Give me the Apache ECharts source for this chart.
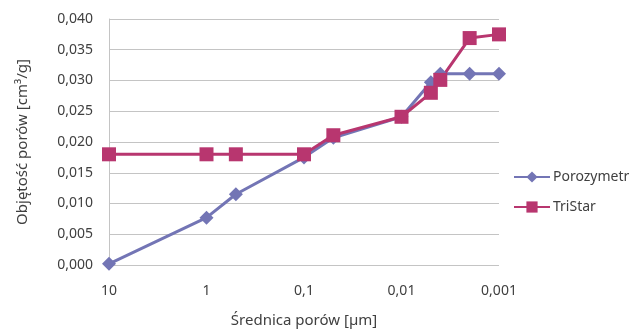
<!DOCTYPE html>
<html>
<head>
<meta charset="utf-8">
<script src="https://cdn.jsdelivr.net/npm/echarts@6/dist/echarts.min.js"></script>
<style>html,body{margin:0;padding:0;background:#fff;}#c{width:633px;height:329px;}</style>
</head>
<body>
<div id="c"></div>
<script>
const diameters = [10, 1, 0.5, 0.1, 0.05, 0.01, 0.005, 0.004, 0.002, 0.001];
const porozymetr = [0.0002, 0.0077, 0.0115, 0.0175, 0.0207, 0.0241, 0.0297, 0.0311, 0.0311, 0.0311];
const tristar = [0.0180, 0.0180, 0.0180, 0.0180, 0.0211, 0.0241, 0.0280, 0.0301, 0.0369, 0.0375];
const xTickLabels = {'1': '10', '0': '1', '-1': '0,1', '-2': '0,01', '-3': '0,001'};
const seriesNames = ['Porozymetr', 'TriStar'];

const font = 'Noto Sans';
const chart = echarts.init(document.getElementById('c'));
chart.setOption({
  animation: false,
  textStyle: {fontFamily: font},
  grid: {left: 109, right: 134, top: 19, bottom: 64, outerBoundsMode: 'none', containLabel: false},
  legend: {
    orient: 'vertical', left: 508, top: 165,
    itemWidth: 36, itemHeight: 14, itemGap: 16,
    textStyle: {fontFamily: font, fontSize: 14, color: '#404040', padding: [0, 0, 0, -2]},
    data: seriesNames
  },
  xAxis: {
    type: 'log', logBase: 10, min: 0.001, max: 10, inverse: true,
    name: 'Średnica porów [µm]', nameLocation: 'middle', nameGap: 48,
    nameTextStyle: {fontFamily: font, fontSize: 15, color: '#404040'},
    axisLine: {show: false},
    axisTick: {show: false},
    splitLine: {show: false},
    axisLabel: {
      fontFamily: font, fontSize: 14, color: '#404040', margin: 19,
      formatter: v => xTickLabels[String(Math.round(Math.log10(v)))] || ''
    }
  },
  yAxis: {
    type: 'value', min: 0, max: 0.04, interval: 0.005,
    name: 'Objętość porów [cm³/g]', nameLocation: 'middle', nameGap: 79,
    nameTextStyle: {fontFamily: font, fontSize: 15, color: '#404040'},
    axisLine: {show: true, lineStyle: {color: '#c4c4c4', width: 1}},
    axisTick: {show: false},
    splitLine: {show: true, lineStyle: {color: '#c4c4c4', width: 1}},
    axisLabel: {
      fontFamily: font, fontSize: 14, color: '#404040', margin: 16,
      formatter: v => v.toFixed(3).replace('.', ',')
    }
  },
  series: [
    {
      name: seriesNames[0], type: 'line',
      data: diameters.map((d, i) => [d, porozymetr[i]]),
      symbol: 'diamond', symbolSize: 14,
      lineStyle: {color: '#7375b5', width: 3},
      itemStyle: {color: '#7375b5'}
    },
    {
      name: seriesNames[1], type: 'line',
      data: diameters.map((d, i) => [d, tristar[i]]),
      symbol: 'rect', symbolSize: 14,
      lineStyle: {color: '#b8366f', width: 3},
      itemStyle: {color: '#b8366f'}
    }
  ]
});
</script>
</body>
</html>
